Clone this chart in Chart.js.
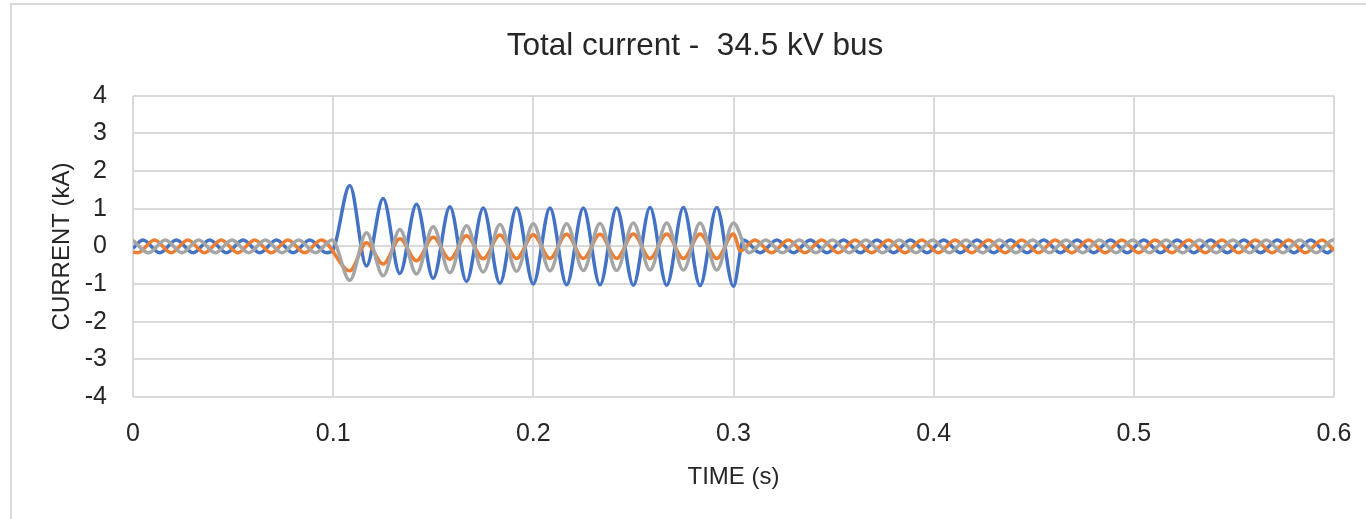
<!DOCTYPE html>
<html>
<head>
<meta charset="utf-8">
<title>Total current - 34.5 kV bus</title>
<script src="https://cdn.jsdelivr.net/npm/chart.js@4/dist/chart.umd.min.js"></script>
<style>
  html, body { margin: 0; padding: 0; background: #ffffff; overflow: hidden; }
  #wrap { position: relative; width: 1366px; height: 519px; }
  #frame { position: absolute; left: 10px; top: 3px; width: 1400px; height: 600px;
           border: 2px solid #d9d9d9; box-sizing: border-box; pointer-events: none; }
  canvas { position: absolute; left: 0; top: 0; }
</style>
</head>
<body>
<div id="wrap">
  <canvas id="chart" width="1366" height="519"></canvas>
  <div id="frame"></div>
</div>
<script>
// Axis tick labels
const TIME_TICKS = ['0', '0.1', '0.2', '0.3', '0.4', '0.5', '0.6'];
const CURRENT_TICKS = ['-4', '-3', '-2', '-1', '0', '1', '2', '3', '4'];

// Simulation output is stored as successive half-cycle extrema (kA),
// one sample every half cycle of the 60 Hz system.
const HALF_CYCLE = 1 / 120;

// Window boundaries (s): start of trace, fault inception, end of trace
const EDGE_TIMES = [0, 0.1, 0.6];

// Phase A (blue)
const blueSegmentStarts = [0.005, 0.1083, 0.305];
const blueEdges = [-0.05, -0.08, -0.05];
const bluePre = [0.17, -0.17, 0.17, -0.17, 0.17, -0.17, 0.17, -0.17, 0.17, -0.17, 0.17, -0.17];
const blueFault = [1.62, -0.52, 1.27, -0.72, 1.12, -0.85, 1.05, -0.93, 1.02, -0.98, 1.02, -1.0,
                   1.02, -1.02, 1.02, -1.02, 1.02, -1.03, 1.03, -1.03, 1.03, -1.04, 1.03, -1.06];
const bluePost = [0.17, -0.17, 0.17, -0.17, 0.17, -0.17, 0.17, -0.17, 0.17, -0.17, 0.17, -0.17,
                  0.17, -0.17, 0.17, -0.17, 0.17, -0.17, 0.17, -0.17, 0.17, -0.17, 0.17, -0.17,
                  0.17, -0.17, 0.17, -0.17, 0.17, -0.17, 0.17, -0.17, 0.17, -0.17, 0.17, -0.17];

// Phase B (orange)
const orangeSegmentStarts = [0.0024, 0.1083, 0.3107];
const orangeEdges = [-0.15, null, -0.11];
const orangeClearing = [0.3035, -0.12];
const orangePre = [-0.17, 0.17, -0.17, 0.17, -0.17, 0.17, -0.17, 0.17, -0.17, 0.17, -0.17, 0.17];
const orangeFault = [-0.65, 0.1, -0.47, 0.2, -0.38, 0.24, -0.34, 0.28, -0.33, 0.3, -0.32, 0.31,
                     -0.32, 0.32, -0.32, 0.32, -0.32, 0.33, -0.32, 0.33, -0.32, 0.33, -0.32, 0.33];
const orangePost = [0.17, -0.17, 0.17, -0.17, 0.17, -0.17, 0.17, -0.17, 0.17, -0.17, 0.17, -0.17,
                    0.17, -0.17, 0.17, -0.17, 0.17, -0.17, 0.17, -0.17, 0.17, -0.17, 0.17, -0.17,
                    0.17, -0.17, 0.17, -0.17, 0.17, -0.17, 0.17, -0.17, 0.17, -0.17, 0.17];

// Phase C (gray)
const graySegmentStarts = [0.0078, 0.1083, 0.3078];
const grayEdges = [0.16, null, 0.17];
const grayPre = [-0.17, 0.17, -0.17, 0.17, -0.17, 0.17, -0.17, 0.17, -0.17, 0.17, -0.17, 0.17];
const grayFault = [-0.9, 0.36, -0.78, 0.45, -0.73, 0.52, -0.7, 0.55, -0.68, 0.58, -0.66, 0.6,
                   -0.65, 0.6, -0.64, 0.61, -0.64, 0.62, -0.63, 0.62, -0.63, 0.62, -0.63, 0.62];
const grayPost = [-0.17, 0.17, -0.17, 0.17, -0.17, 0.17, -0.17, 0.17, -0.17, 0.17, -0.17, 0.17,
                  -0.17, 0.17, -0.17, 0.17, -0.17, 0.17, -0.17, 0.17, -0.17, 0.17, -0.17, 0.17,
                  -0.17, 0.17, -0.17, 0.17, -0.17, 0.17, -0.17, 0.17, -0.17, 0.17, -0.17, 0.17];

function segment(start, values) {
  return values.map((v, k) => ({ x: start + k * HALF_CYCLE, y: v }));
}

function buildTrace(starts, edges, pre, fault, post, extra) {
  const pts = [{ x: EDGE_TIMES[0], y: edges[0] }];
  pts.push(...segment(starts[0], pre));
  if (edges[1] !== null) pts.push({ x: EDGE_TIMES[1], y: edges[1] });
  pts.push(...segment(starts[1], fault));
  if (extra) pts.push({ x: extra[0], y: extra[1] });
  pts.push(...segment(starts[2], post));
  pts.push({ x: EDGE_TIMES[2], y: edges[2] });
  return pts.sort((a, b) => a.x - b.x);
}

const FONT = 'Liberation Sans, Arial, sans-serif';
const TEXT = '#262626';
const GRID = '#d9d9d9';

const lineStyle = {
  pointRadius: 0,
  pointHoverRadius: 0,
  borderWidth: 3.5,
  fill: false,
  cubicInterpolationMode: 'monotone'
};

// Centre the chart title over the whole framed chart rather than the canvas box.
const titleSpan = {
  id: 'titleSpan',
  afterLayout(chart) {
    const t = chart.titleBlock;
    if (t) { t.left = 0; t.right = 1390; t.width = 1390; }
  }
};

new Chart(document.getElementById('chart'), {
  type: 'line',
  plugins: [titleSpan],
  data: {
    datasets: [
      Object.assign({ label: 'Phase A', order: 2, borderColor: '#4472C4',
        data: buildTrace(blueSegmentStarts, blueEdges, bluePre, blueFault, bluePost) }, lineStyle),
      Object.assign({ label: 'Phase B', order: 1, borderColor: '#ED7D31',
        data: buildTrace(orangeSegmentStarts, orangeEdges, orangePre, orangeFault, orangePost, orangeClearing) }, lineStyle),
      Object.assign({ label: 'Phase C', order: 0, borderColor: '#A5A5A5',
        data: buildTrace(graySegmentStarts, grayEdges, grayPre, grayFault, grayPost) }, lineStyle)
    ]
  },
  options: {
    responsive: false,
    animation: false,
    events: [],
    layout: { padding: { left: 0, right: 32, top: 0, bottom: 0 } },
    plugins: {
      legend: { display: false },
      tooltip: { enabled: false },
      title: {
        display: true,
        text: 'Total current -  34.5 kV bus',
        color: TEXT,
        font: { family: FONT, size: 31.5, weight: 'normal' },
        padding: { top: 27, bottom: 31 }
      }
    },
    scales: {
      x: {
        type: 'linear',
        min: 0,
        max: 0.6,
        afterFit: s => { s.height = 122; },
        grid: { color: GRID, lineWidth: 2, drawTicks: true, tickLength: 22, tickColor: 'rgba(0,0,0,0)' },
        border: { display: false },
        ticks: {
          stepSize: 0.1,
          padding: 0,
          color: TEXT,
          font: { family: FONT, size: 25 },
          maxRotation: 0,
          callback: (v, i) => TIME_TICKS[i]
        },
        title: {
          display: true,
          text: 'TIME (s)',
          color: TEXT,
          font: { family: FONT, size: 24 },
          padding: { top: 0, bottom: 27 }
        }
      },
      y: {
        min: -4,
        max: 4,
        afterFit: s => { s.width = 133; },
        grid: { color: GRID, lineWidth: 2, drawTicks: false },
        border: { display: false },
        ticks: {
          stepSize: 1,
          padding: 26,
          color: TEXT,
          font: { family: FONT, size: 25 },
          callback: (v, i) => CURRENT_TICKS[i]
        },
        title: {
          display: true,
          text: 'CURRENT (kA)',
          color: TEXT,
          font: { family: FONT, size: 24 },
          padding: { top: 48, bottom: 0 }
        }
      }
    }
  }
});
</script>
</body>
</html>
